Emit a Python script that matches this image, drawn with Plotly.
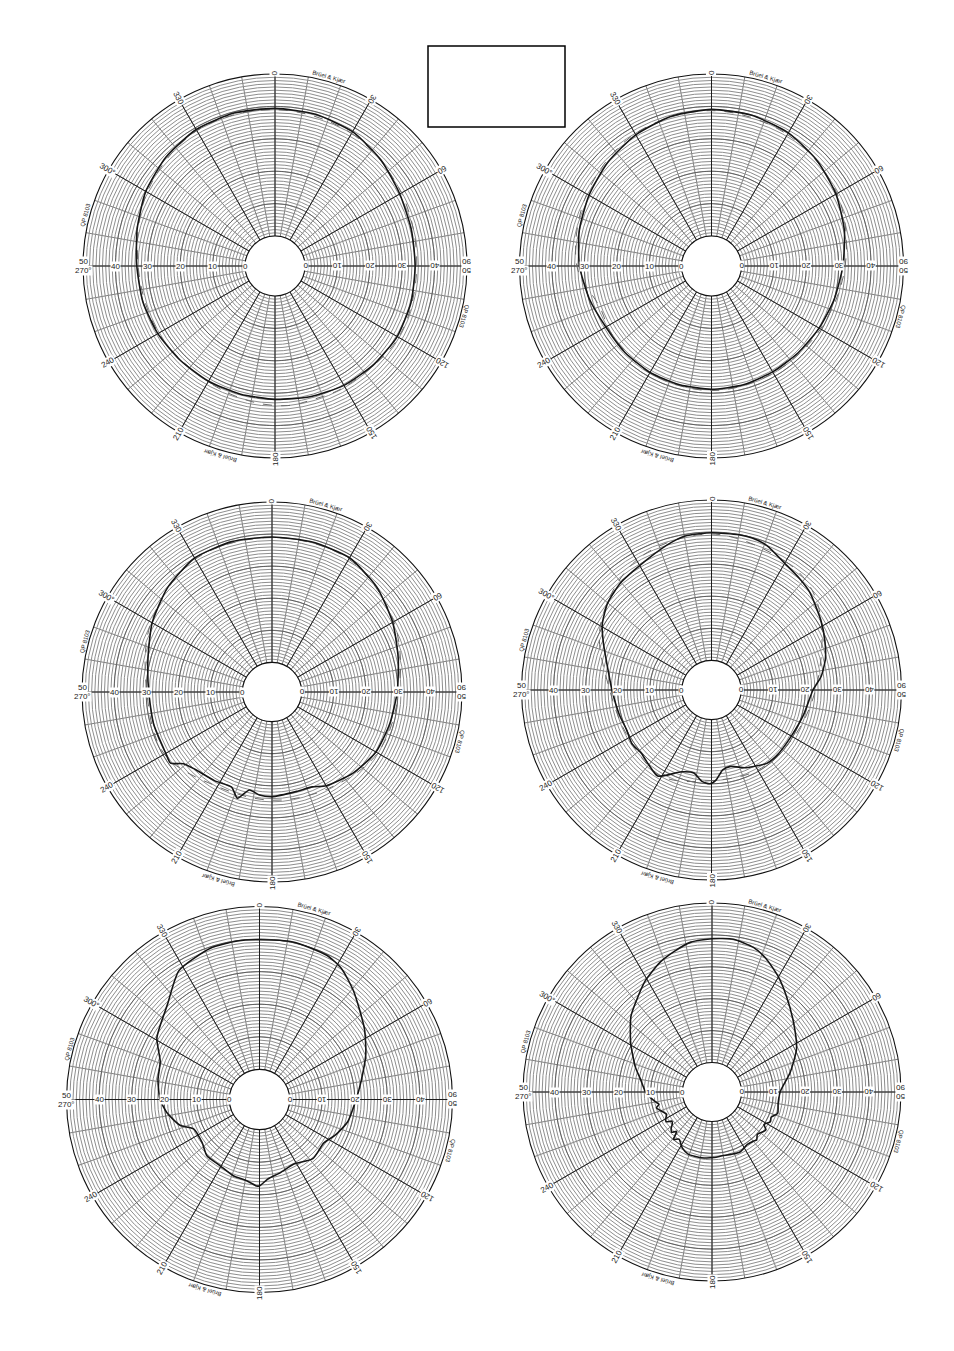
import numpy as np
import plotly.graph_objects as go

W, H = 954, 1351

# ---------------- data (dB level read at angle, degrees clockwise from top) -------------
theta1 = [0, 15, 30, 45, 60, 75, 90, 105, 120, 135, 150, 165, 180, 195, 210, 225, 240, 255, 270, 285, 300, 315, 330, 345, 360]
level1 = [39.4, 39.2, 38.6, 37.0, 35.2, 34.3, 34.0, 34.2, 34.3, 33.8, 33.3, 32.5, 31.9, 31.7, 31.8, 32.0, 32.5, 33.0, 33.4, 34.8, 36.8, 38.3, 39.4, 39.6, 39.4]
theta1b = [0, 30, 60, 90, 120, 150, 165, 175, 190, 210, 240, 270, 300, 330, 360]
level1b = [39.0, 38.0, 35.8, 34.5, 34.8, 33.8, 33.6, 34.0, 33.2, 32.0, 32.2, 33.0, 36.3, 39.0, 39.0]

theta2 = [0, 15, 30, 45, 60, 75, 90, 105, 120, 135, 150, 165, 180, 195, 210, 225, 240, 255, 270, 285, 300, 315, 330, 345, 360]
level2 = [39.1, 38.9, 38.2, 36.8, 35.1, 33.2, 31.3, 30.0, 29.1, 28.6, 28.5, 28.7, 28.8, 28.7, 28.7, 28.5, 28.4, 29.8, 31.5, 33.0, 34.4, 36.0, 37.5, 38.6, 39.1]
theta2b = [0, 30, 60, 90, 120, 150, 180, 210, 235, 250, 270, 300, 330, 360]
level2b = [38.7, 37.6, 35.5, 32.0, 29.6, 28.9, 29.2, 28.9, 28.0, 27.5, 32.3, 35.2, 37.9, 38.7]

theta3 = [0, 15, 30, 45, 60, 75, 90, 105, 120, 135, 150, 157, 166, 180, 187, 193, 198, 203, 213, 225, 231, 235, 240, 255, 270, 285, 300, 315, 330, 345, 360]
level3 = [39.1, 39.2, 39.1, 37.0, 34.2, 31.5, 29.8, 28.8, 28.2, 26.5, 24.5, 22.9, 22.7, 23.4, 23.1, 22.1, 25.6, 23.0, 23.7, 24.8, 26.3, 29.4, 29.0, 29.0, 29.2, 30.8, 33.9, 36.8, 39.0, 39.3, 39.1]
theta3b = [0, 30, 60, 90, 120, 150, 180, 210, 240, 270, 300, 330, 360]
level3b = [38.9, 38.6, 34.6, 30.3, 28.8, 25.6, 24.5, 24.8, 29.5, 29.8, 34.3, 38.6, 38.9]

theta4 = [0, 10, 15, 21, 30, 38, 45, 58, 67, 75, 83, 90, 105, 120, 135, 143, 151, 157, 166, 172, 177, 181, 186, 192, 200, 212, 220, 228, 236, 245, 255, 270, 279, 294, 301, 310, 320, 334, 345, 351, 360]
level4 = [39.8, 39.9, 39.8, 39.0, 36.4, 35.1, 34.0, 31.1, 29.2, 27.5, 25.2, 22.4, 20.5, 19.5, 19.6, 19.4, 18.0, 17.1, 15.3, 15.9, 18.8, 20.0, 19.4, 17.2, 17.9, 22.4, 21.2, 20.2, 20.7, 20.0, 20.5, 21.8, 23.2, 27.7, 30.5, 33.0, 34.6, 36.2, 38.5, 39.5, 39.8]
theta4b = [0, 30, 45, 60, 90, 120, 150, 180, 210, 240, 270, 300, 330, 360]
level4b = [39.4, 37.0, 35.0, 30.4, 23.2, 20.3, 19.6, 19.0, 21.8, 20.6, 22.5, 30.8, 37.5, 39.4]

theta5 = [0, 12, 25, 32, 41, 56, 67, 80, 90, 104, 115, 124, 138, 152, 164, 174, 180, 182, 189, 199, 211, 223, 233, 246, 252, 262, 270, 281, 291, 301, 316, 328, 342, 352, 360]
level5 = [39.8, 40.2, 39.6, 38.2, 34.8, 29.6, 26.2, 22.4, 20.4, 18.7, 16.5, 14.6, 15.2, 13.2, 14.1, 15.3, 17.3, 17.3, 16.0, 15.5, 14.4, 14.4, 12.8, 12.9, 16.4, 19.5, 21.3, 22.5, 23.4, 27.5, 31.4, 37.4, 39.6, 39.9, 39.8]

theta6 = [0, 8, 16, 22, 30, 38, 50, 63, 76, 90, 100, 108, 113, 117, 122, 125, 128, 133, 137, 140, 146, 155, 163, 171, 178, 189, 201, 208, 215, 219, 222, 225, 228, 231, 234, 237, 240, 244, 249, 254, 257, 260, 265, 270, 280, 288, 301, 313, 320, 329, 338, 345, 352, 360]
level6 = [38.8, 39.1, 37.9, 35.9, 32.4, 28.7, 24.2, 20.5, 16.0, 12.1, 11.8, 12.4, 10.9, 11.3, 10.0, 11.4, 11.0, 10.2, 11.3, 10.9, 10.6, 11.5, 11.2, 11.0, 11.3, 11.6, 11.6, 10.6, 8.8, 9.9, 7.3, 8.6, 8.0, 6.8, 6.3, 7.9, 7.5, 6.6, 7.6, 8.9, 7.8, 8.7, 10.2, 11.6, 13.5, 16.0, 20.5, 25.5, 27.8, 31.4, 34.5, 36.4, 38.2, 38.8]

angle_labels = ["0", "30", "60", "90", "120", "150", "180", "210", "240", "270°", "300°", "330"]
angle_values = [0, 30, 60, 90, 120, 150, 180, 210, 240, 270, 300, 330]
radial_ticks = [0, 10, 20, 30, 40]
range_top = "50"
brand = "Brüel & Kjær"
paper_code = "QP 8103"

# ---------------- geometry (pixels in the screenshot) ----------------
charts = [
    dict(cx=275, cy=266, R=192, main=(theta1, level1), second=(theta1b, level1b)),
    dict(cx=711.5, cy=266, R=192, main=(theta2, level2), second=(theta2b, level2b)),
    dict(cx=272, cy=692, R=190, main=(theta3, level3), second=(theta3b, level3b)),
    dict(cx=711.5, cy=690, R=190, main=(theta4, level4), second=(theta4b, level4b)),
    dict(cx=259.5, cy=1099.5, R=193, main=(theta5, level5), second=None),
    dict(cx=712, cy=1092, R=189, main=(theta6, level6), second=None),
]
HOLE = 0.156
FONT = "Liberation Sans"
OFF = 8  # page body margin

fig = go.Figure()
annotations = []


def px_to_paper(x, y):
    return (x - OFF) / W, 1 - (y - OFF) / H


def pos(c, theta, rpx):
    t = np.radians(theta)
    return c["cx"] + rpx * np.sin(t), c["cy"] - rpx * np.cos(t)


def add_text(x, y, text, angle=0, size=8, bg="white"):
    px, py = px_to_paper(x, y)
    a = ((angle + 180) % 360) - 180
    annotations.append(dict(x=px, y=py, xref="paper", yref="paper", text=text,
                            showarrow=False, textangle=a, xanchor="center", yanchor="middle",
                            font=dict(family=FONT, size=size, color="#1a1a1a"),
                            bgcolor=bg, borderpad=0))


circ = np.linspace(0, 360, 361)

for i, c in enumerate(charts):
    name = "polar" if i == 0 else f"polar{i + 1}"
    sub = name
    x0, y1 = px_to_paper(c["cx"] - c["R"], c["cy"] - c["R"])
    x1, y0 = px_to_paper(c["cx"] + c["R"], c["cy"] + c["R"])
    fig.update_layout(**{name: dict(
        domain=dict(x=[x0, x1], y=[y0, y1]),
        hole=HOLE,
        bgcolor="white",
        radialaxis=dict(range=[0, 50], dtick=1, showgrid=True, gridcolor="#8e8e8e", gridwidth=0.55,
                        showticklabels=False, ticks="", showline=False),
        angularaxis=dict(rotation=90, direction="clockwise", dtick=10, showgrid=True,
                         gridcolor="#7e7e7e", gridwidth=0.6, showticklabels=False, ticks="",
                         showline=True, linecolor="#111", linewidth=1.1),
    )})

    # darker grid: 10 dB circles, inner hole circle, 30-degree rays
    rr, tt = [], []
    for v in [0, 10, 20, 30, 40]:
        rr += [v] * len(circ) + [None]
        tt += list(circ) + [None]
    fig.add_trace(go.Scatterpolar(r=rr, theta=tt, mode="lines", subplot=sub,
                                  line=dict(color="#505050", width=0.8), hoverinfo="skip", showlegend=False))
    rr, tt = [], []
    for a in angle_values:
        rr += [0, 50, None]
        tt += [a, a, None]
    fig.add_trace(go.Scatterpolar(r=rr, theta=tt, mode="lines", subplot=sub,
                                  line=dict(color="#111", width=0.9), hoverinfo="skip", showlegend=False))

    if c["second"] is not None:
        th, lv = c["second"]
        fig.add_trace(go.Scatterpolar(r=lv, theta=th, mode="lines", subplot=sub,
                                      line=dict(color="#6a6a6a", width=1, dash="dash", shape="spline"),
                                      showlegend=False))
    th, lv = c["main"]
    fig.add_trace(go.Scatterpolar(r=lv, theta=th, mode="lines", subplot=sub,
                                  line=dict(color="#151515", width=1.6, shape="spline", smoothing=0.6),
                                  showlegend=False))

    # labels
    R = c["R"]
    rh = R * HOLE
    for lab, a in zip(angle_labels, angle_values):
        if a in (90, 270):
            continue
        x, y = pos(c, a, R + 1)
        add_text(x, y, lab, angle=a + 90, size=8)
    # left side (270): 50 above, 270° below ; right side (90) rotated 180
    x, y = pos(c, 270, R)
    add_text(x, y - 4.5, range_top, 0, 8)
    add_text(x, y + 4.5, "270°", 0, 8)
    x, y = pos(c, 90, R)
    add_text(x, y - 4.5, "90", 180, 8)
    add_text(x, y + 4.5, range_top, 180, 8)
    for v in radial_ticks:
        rp = rh + (R - rh) * v / 50
        x, y = pos(c, 270, rp)
        add_text(x, y, str(v), 0, 8)
        x, y = pos(c, 90, rp)
        add_text(x, y, str(v), 180, 8)
    # brand / paper code texts along the rim
    x, y = pos(c, 16, R + 5)
    add_text(x, y, brand, 16, 6, bg="rgba(0,0,0,0)")
    x, y = pos(c, 196, R + 5)
    add_text(x, y, brand, 196, 6, bg="rgba(0,0,0,0)")
    x, y = pos(c, 285, R + 4)
    add_text(x, y, paper_code, 285, 6, bg="rgba(0,0,0,0)")
    x, y = pos(c, 105, R + 4)
    add_text(x, y, paper_code, 105, 6, bg="rgba(0,0,0,0)")

# empty box at the top
bx0, by1 = px_to_paper(428, 46)
bx1, by0 = px_to_paper(565, 127)

fig.update_layout(
    width=W, height=H,
    margin=dict(l=0, r=0, t=0, b=0),
    paper_bgcolor="white",
    plot_bgcolor="white",
    showlegend=False,
    annotations=annotations,
    shapes=[dict(type="rect", xref="paper", yref="paper", x0=bx0, x1=bx1, y0=by0, y1=by1,
                 line=dict(color="black", width=1.5), fillcolor="rgba(0,0,0,0)")],
)

fig.write_html("out.html")
